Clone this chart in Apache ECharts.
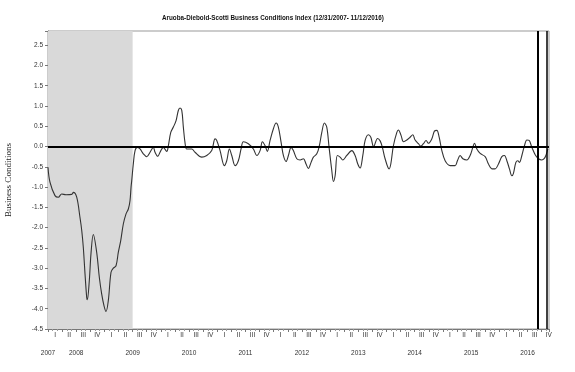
<!DOCTYPE html>
<html>
<head>
<meta charset="utf-8">
<script src="https://cdn.jsdelivr.net/npm/echarts@6/dist/echarts.min.js"></script>
<style>
html,body{margin:0;padding:0;background:#fff;}
#chart{width:575px;height:372px;}
</style>
</head>
<body>
<div id="chart"></div>
<script>
// time as decimal year (2008.0 = 12/31/2007)
var dates = [2008.000,2008.035,2008.124,2008.183,2008.243,2008.319,2008.420,2008.449,2008.509,2008.567,2008.598,2008.626,2008.656,2008.686,2008.697,2008.732,2008.762,2008.803,2008.863,2008.910,2008.952,2008.993,2009.028,2009.069,2009.117,2009.158,2009.206,2009.246,2009.289,2009.335,2009.383,2009.424,2009.454,2009.472,2009.484,2009.512,2009.543,2009.583,2009.631,2009.690,2009.750,2009.809,2009.867,2009.897,2009.945,2009.986,2010.044,2010.105,2010.133,2010.176,2010.222,2010.270,2010.310,2010.340,2010.371,2010.399,2010.429,2010.459,2010.548,2010.606,2010.725,2010.814,2010.902,2010.961,2010.991,2011.050,2011.126,2011.168,2011.215,2011.257,2011.316,2011.374,2011.422,2011.463,2011.551,2011.640,2011.700,2011.759,2011.800,2011.848,2011.888,2011.936,2011.995,2012.043,2012.083,2012.131,2012.172,2012.220,2012.261,2012.309,2012.349,2012.410,2012.468,2012.527,2012.574,2012.615,2012.663,2012.704,2012.764,2012.810,2012.853,2012.899,2012.941,2012.982,2013.030,2013.059,2013.089,2013.129,2013.177,2013.225,2013.296,2013.385,2013.443,2013.491,2013.532,2013.580,2013.621,2013.679,2013.722,2013.771,2013.842,2013.887,2013.927,2013.975,2014.046,2014.076,2014.122,2014.183,2014.211,2014.259,2014.300,2014.360,2014.418,2014.466,2014.507,2014.566,2014.608,2014.654,2014.702,2014.743,2014.803,2014.849,2014.892,2014.933,2014.981,2015.039,2015.128,2015.216,2015.257,2015.305,2015.353,2015.424,2015.482,2015.530,2015.559,2015.601,2015.660,2015.748,2015.807,2015.867,2015.926,2015.984,2016.044,2016.090,2016.133,2016.179,2016.222,2016.250,2016.293,2016.328,2016.356,2016.399,2016.445,2016.488,2016.528,2016.576,2016.635,2016.693,2016.753,2016.794,2016.830,2016.860];
var adsValues = [-0.51,-0.88,-1.21,-1.25,-1.17,-1.19,-1.18,-1.13,-1.25,-1.75,-2.07,-2.49,-3.14,-3.72,-3.78,-3.31,-2.64,-2.17,-2.61,-3.23,-3.64,-3.93,-4.07,-3.80,-3.10,-3.00,-2.94,-2.61,-2.32,-1.91,-1.66,-1.54,-1.33,-1.00,-0.84,-0.43,-0.10,-0.02,-0.06,-0.18,-0.25,-0.14,-0.02,-0.14,-0.24,-0.14,-0.02,-0.12,0.02,0.35,0.48,0.64,0.89,0.95,0.89,0.48,0.09,-0.06,-0.06,-0.14,-0.26,-0.22,-0.10,0.19,0.15,-0.10,-0.47,-0.35,-0.06,-0.22,-0.47,-0.35,-0.06,0.12,0.07,-0.06,-0.22,-0.10,0.12,0.02,-0.12,0.15,0.44,0.58,0.48,0.11,-0.22,-0.37,-0.22,-0.02,-0.10,-0.30,-0.33,-0.30,-0.43,-0.54,-0.39,-0.26,-0.18,0.02,0.35,0.58,0.48,-0.02,-0.59,-0.86,-0.72,-0.22,-0.26,-0.33,-0.22,-0.10,-0.22,-0.43,-0.53,-0.22,0.15,0.29,0.23,0.00,0.20,0.14,-0.02,-0.30,-0.55,-0.43,0.02,0.35,0.41,0.27,0.12,0.16,0.23,0.29,0.16,0.07,0.01,0.07,0.15,0.08,0.19,0.38,0.40,0.23,-0.10,-0.35,-0.47,-0.47,-0.35,-0.22,-0.30,-0.33,-0.22,-0.02,0.08,-0.06,-0.17,-0.25,-0.43,-0.55,-0.55,-0.43,-0.25,-0.22,-0.35,-0.55,-0.72,-0.66,-0.39,-0.35,-0.39,-0.22,0.02,0.16,0.15,-0.02,-0.20,-0.30,-0.33,-0.30,-0.20,-0.06];
var quarterLabels = ['I','II','III','IV'];
var yearLabels = {2008:'2007',2008.5:'2008',2009.5:'2009',2010.5:'2010',2011.5:'2011',2012.5:'2012',2013.5:'2013',2014.5:'2014',2015.5:'2015',2016.5:'2016'};
var recession = [2008.0, 2009.5];
var markerLines = [2016.68, 2016.84];
var xMin = 2008, xMax = 2016.88;
var yMin = -4.5, yMax = 2.85;

var chart = echarts.init(document.getElementById('chart'), null, {renderer:'canvas'});
var seriesData = dates.map(function(d,i){return [d, adsValues[i]];});
var font = 'Arial, "Liberation Sans", sans-serif';
chart.setOption({
  animation:false,
  backgroundColor:'#fff',
  title:{
    text:'Aruoba-Diebold-Scotti Business Conditions Index (12/31/2007- 11/12/2016)',
    left:157, top:10,
    textStyle:{fontSize:6.3, fontWeight:'bold', color:'#111', fontFamily:font}
  },
  grid:{left:48, right:26, top:31, bottom:43, show:true, borderColor:'#999', borderWidth:1,
        backgroundColor:'transparent', containLabel:false, outerBoundsMode:'none'},
  xAxis:[
    {type:'value', min:xMin, max:xMax, interval:0.25, position:'bottom',
     axisLine:{show:true, onZero:false, lineStyle:{color:'#777', width:1}},
     axisTick:{show:true, length:3, lineStyle:{color:'#777'}},
     minorTick:{show:true, splitNumber:3, length:2, lineStyle:{color:'#999'}},
     axisLabel:{show:false}, splitLine:{show:false}},
    {type:'value', min:xMin, max:xMax, interval:0.125, position:'bottom',
     axisLine:{show:false}, axisTick:{show:false}, splitLine:{show:false},
     axisLabel:{show:true, margin:3, fontSize:6.5, color:'#333', fontFamily:font, hideOverlap:false,
       showMinLabel:true, showMaxLabel:true,
       formatter:function(v){
         var k = Math.round((v - xMin) / 0.125);
         if (Math.abs((v - xMin) / 0.125 - k) > 1e-6 || k % 2 === 0) return '';
         return quarterLabels[((k - 1) / 2) % 4];
       }}},
    {type:'value', min:xMin, max:xMax, interval:0.5, position:'bottom',
     axisLine:{show:false}, axisTick:{show:false}, splitLine:{show:false},
     axisLabel:{show:true, margin:21, fontSize:6.5, color:'#333', fontFamily:font, hideOverlap:false,
       showMinLabel:true, showMaxLabel:true,
       formatter:function(v){
         var key = Math.round(v*10)/10;
         return yearLabels[key] || '';
       }}}
  ],
  yAxis:{type:'value', min:yMin, max:yMax, interval:0.5,
    name:'Business Conditions', nameLocation:'middle', nameGap:35, nameRotate:90,
    nameTextStyle:{fontFamily:'"Liberation Serif", "Times New Roman", serif', fontSize:9, color:'#222'},
    axisLine:{show:true, lineStyle:{color:'#777'}},
    axisTick:{show:true, length:3, lineStyle:{color:'#777'}},
    splitLine:{show:false},
    axisLabel:{margin:5, fontSize:6.5, color:'#333', fontFamily:font, showMaxLabel:true,
      formatter:function(v){
        var k = Math.round(v / 0.5);
        if (Math.abs(v/0.5 - k) > 1e-6) return '';
        return v.toFixed(1);
      }}
  },
  series:[{
    type:'line', xAxisIndex:0, data:seriesData, showSymbol:false, smooth:0.35,
    lineStyle:{color:'#333', width:1.1},
    markArea:{silent:true, itemStyle:{color:'#d9d9d9'}, data:[[{xAxis:recession[0]},{xAxis:recession[1]}]]},
    markLine:{silent:true, symbol:'none', label:{show:false},
      data:[
        {yAxis:0, lineStyle:{color:'#000', width:2, type:'solid'}},
        {xAxis:markerLines[0], lineStyle:{color:'#000', width:2, type:'solid'}},
        {xAxis:markerLines[1], lineStyle:{color:'#000', width:1.5, type:'solid'}}
      ]}
  }]
});
</script>
</body>
</html>
